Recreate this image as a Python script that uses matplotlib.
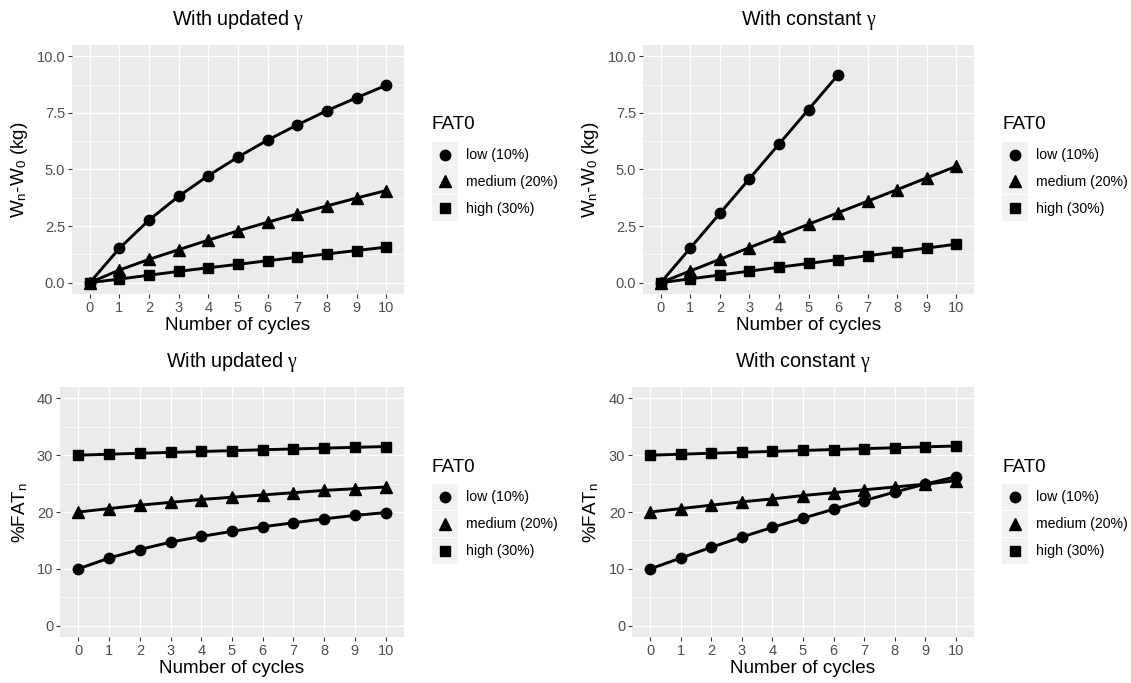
import matplotlib
matplotlib.use("Agg")
import matplotlib.pyplot as plt
from matplotlib.patches import Rectangle
from matplotlib.lines import Line2D

plt.rcParams['font.family'] = ['Liberation Sans', 'DejaVu Sans']
plt.rcParams['mathtext.fontset'] = 'custom'
plt.rcParams['mathtext.rm'] = 'Liberation Serif'
plt.rcParams['mathtext.it'] = 'Liberation Serif'

# dane
cycles = list(range(11))
groups = ["low (10%)", "medium (20%)", "high (30%)"]
markers = ["o", "^", "s"]
marker_sizes = [7.5, 8.5, 7.0]

upd_w_low = [0, 1.52, 2.77, 3.82, 4.73, 5.55, 6.30, 6.97, 7.60, 8.17, 8.72]
upd_w_med = [0, 0.56, 1.03, 1.46, 1.88, 2.29, 2.67, 3.04, 3.39, 3.74, 4.07]
upd_w_high = [0, 0.16, 0.33, 0.50, 0.66, 0.81, 0.97, 1.12, 1.27, 1.42, 1.57]

con_w_low = [0, 1.53, 3.06, 4.59, 6.12, 7.65, 9.18]
con_w_med = [0, 0.52, 1.03, 1.55, 2.06, 2.58, 3.09, 3.60, 4.11, 4.63, 5.14]
con_w_high = [0, 0.17, 0.34, 0.51, 0.68, 0.85, 1.02, 1.19, 1.36, 1.53, 1.70]

upd_fat_low = [10, 11.9, 13.4, 14.7, 15.7, 16.6, 17.4, 18.1, 18.8, 19.4, 19.9]
upd_fat_med = [20, 20.6, 21.2, 21.7, 22.2, 22.6, 23.0, 23.4, 23.8, 24.1, 24.4]
upd_fat_high = [30, 30.17, 30.33, 30.49, 30.65, 30.80, 30.95, 31.10, 31.24, 31.38, 31.52]

con_fat_low = [10, 11.9, 13.8, 15.6, 17.3, 18.9, 20.5, 22.0, 23.5, 24.9, 26.2]
con_fat_med = [20, 20.6, 21.2, 21.8, 22.3, 22.9, 23.4, 23.9, 24.4, 24.9, 25.5]
con_fat_high = [30, 30.17, 30.34, 30.50, 30.67, 30.83, 30.99, 31.15, 31.31, 31.46, 31.62]

w_ticks = [0.0, 2.5, 5.0, 7.5, 10.0]
w_tick_labels = ["0.0", "2.5", "5.0", "7.5", "10.0"]
fat_ticks = [0, 10, 20, 30, 40]
fat_tick_labels = ["0", "10", "20", "30", "40"]

W, H = 1131, 683
fig = plt.figure(figsize=(W / 100, H / 100), dpi=100)


class KeyHandler:
    """Klucz legendy w stylu ggplot: szary kwadrat z markerem."""
    def __init__(self, marker, ms):
        self.marker = marker
        self.ms = ms

    def legend_artist(self, legend, orig_handle, fontsize, handlebox):
        x0, y0 = handlebox.xdescent, handlebox.ydescent
        w, h = handlebox.width, handlebox.height
        rect = Rectangle((-x0, -y0), w, h, facecolor="#F2F2F2", edgecolor="none",
                         transform=handlebox.get_transform())
        handlebox.add_artist(rect)
        pt = Line2D([-x0 + w / 2], [-y0 + h / 2], marker=self.marker, ms=self.ms,
                    color="black", linestyle="none", transform=handlebox.get_transform())
        handlebox.add_artist(pt)
        return rect


def panel(px_left, px_top, px_right, px_bottom, series, x_list, yticks, ytick_labels,
          ylim, ylabel, label_right, title):
    ax = fig.add_axes([px_left / W, 1 - px_bottom / H,
                       (px_right - px_left) / W, (px_bottom - px_top) / H])
    ax.set_facecolor("#EBEBEB")
    for s in ax.spines.values():
        s.set_visible(False)
    ax.set_xlim(-0.6, 10.6)
    ax.set_ylim(*ylim)
    ax.set_xticks(cycles)
    ax.set_xticklabels([str(c) for c in cycles])
    ax.set_yticks(yticks)
    ax.set_yticklabels(ytick_labels)
    minor = [(a + b) / 2 for a, b in zip(yticks[:-1], yticks[1:])]
    ax.set_yticks(minor, minor=True)
    ax.grid(True, which="major", color="white", lw=0.85)
    ax.grid(True, which="minor", axis="y", color="white", lw=0.45)
    ax.set_axisbelow(True)
    ax.tick_params(which="major", length=2.75, width=0.8, color="#333333",
                   labelcolor="#4D4D4D", labelsize=10.5, pad=2.2)
    ax.tick_params(which="minor", length=0)

    handles = []
    for xs, ys in zip(x_list, series):
        ax.plot(xs, ys, color="black", lw=2.1, zorder=2)
    for xs, ys, m, ms in zip(x_list, series, markers, marker_sizes):
        h, = ax.plot(xs, ys, linestyle="none", marker=m, ms=ms, color="black", zorder=3)
        handles.append(h)

    ax.set_xlabel("Number of cycles", fontsize=13.6, labelpad=1.5)
    ax.set_ylabel(ylabel, fontsize=13.6)
    ax.yaxis.set_label_coords((label_right - px_left) / (px_right - px_left), 0.5)

    fig.text((px_left + px_right) / 2 / W, 1 - (px_top - 25) / H, title,
             ha="center", va="center", fontsize=14.2)

    # legenda po prawej stronie panelu
    mid = (px_top + px_bottom) / 2
    lx = px_right + 28
    fig.text(lx / W, 1 - (mid - 45) / H, "FAT0", ha="left", va="center", fontsize=13.6)
    fs = 10.2
    k = 26 / (fs * 100 / 72)
    hh = (k - 0.245) / 0.65
    fig.legend(handles, groups, loc="upper left",
               bbox_to_anchor=(lx / W, 1 - (mid - 28) / H),
               frameon=False, fontsize=fs, borderpad=0, borderaxespad=0,
               handlelength=k, handleheight=hh, labelspacing=0.07,
               handletextpad=0.6,
               handler_map={h: KeyHandler(m, ms) for h, m, ms in
                            zip(handles, markers, marker_sizes)})
    return ax


ylab_w = r"W$_\mathregular{n}$-W$_\mathregular{0}$ (kg)"
ylab_fat = r"%FAT$_\mathregular{n}$"

panel(72, 45, 404, 294, [upd_w_low, upd_w_med, upd_w_high],
      [cycles, cycles, cycles], w_ticks, w_tick_labels, (-0.5, 10.5),
      ylab_w, 30, r"With updated $\gamma$")
panel(643, 45, 974, 294, [con_w_low, con_w_med, con_w_high],
      [cycles[:len(con_w_low)], cycles, cycles], w_ticks, w_tick_labels, (-0.5, 10.5),
      ylab_w, 601, r"With constant $\gamma$")
panel(60, 387, 404, 637, [upd_fat_low, upd_fat_med, upd_fat_high],
      [cycles, cycles, cycles], fat_ticks, fat_tick_labels, (-2, 42),
      ylab_fat, 30, r"With updated $\gamma$")
panel(632, 387, 974, 637, [con_fat_low, con_fat_med, con_fat_high],
      [cycles, cycles, cycles], fat_ticks, fat_tick_labels, (-2, 42),
      ylab_fat, 601, r"With constant $\gamma$")

fig.savefig("out.png", dpi=100)
